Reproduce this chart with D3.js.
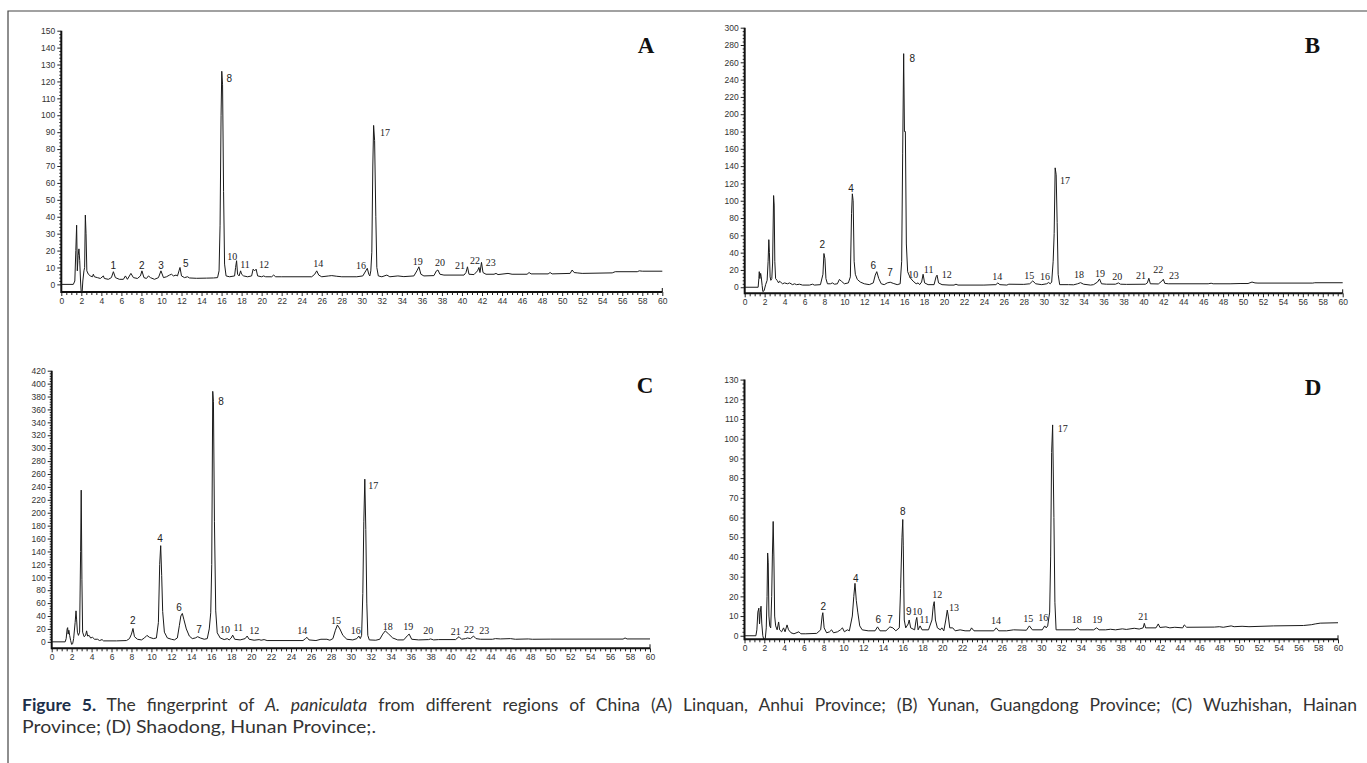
<!DOCTYPE html>
<html>
<head>
<meta charset="utf-8">
<script src="https://cdn.jsdelivr.net/npm/d3@7"></script>
<style>
  body { margin: 0; background: #fff; }
</style>
</head>
<body>
<script>
// retention time ticks (min), shared by all four chromatograms
const xTicks = [0, 2, 4, 6, 8, 10, 12, 14, 16, 18, 20, 22, 24, 26, 28, 30, 32, 34, 36, 38, 40, 42, 44, 46, 48, 50, 52, 54, 56, 58, 60]

const yTicksA = [0, 10, 20, 30, 40, 50, 60, 70, 80, 90, 100, 110, 120, 130, 140, 150]
const yTicksB = [0, 20, 40, 60, 80, 100, 120, 140, 160, 180, 200, 220, 240, 260, 280, 300]
const yTicksC = [0, 20, 40, 60, 80, 100, 120, 140, 160, 180, 200, 220, 240, 260, 280, 300, 320, 340, 360, 380, 400, 420]
const yTicksD = [0, 10, 20, 30, 40, 50, 60, 70, 80, 90, 100, 110, 120, 130]

// traces: [time, response]
const traceA = [[0,0],[1.2,0],[1.35,2],[1.45,20],[1.53,35],[1.6,8],[1.68,17],[1.76,21],[1.84,14],[1.92,2],[1.98,-4],[2.08,-4.5],[2.15,2],[2.26,8],[2.33,10],[2.4,41],[2.47,30],[2.55,8],[2.7,6],[2.9,5],[3.1,4.5],[3.2,6],[3.3,4.5],[3.6,4],[3.9,3.5],[4.2,5],[4.3,3.5],[4.7,3],[5.0,4],[5.2,7.5],[5.4,4],[5.8,3],[6.2,3],[6.4,5],[6.6,3],[6.95,6.5],[7.2,4],[7.6,3.5],[7.9,5],[8.05,8],[8.25,4],[8.5,3.5],[8.7,5],[8.9,4],[9.3,3],[9.7,4],[9.95,8],[10.2,4],[10.5,4.5],[10.8,5.5],[11.0,6],[11.2,5],[11.45,5.5],[11.6,5],[11.75,8],[11.85,10],[12.0,5],[12.3,4],[12.6,4.5],[12.8,3.8],[13.5,3.6],[14.5,3.7],[15.2,3.8],[15.6,4],[15.75,8],[15.85,35],[15.95,100],[16.02,126],[16.1,118],[16.2,55],[16.3,12],[16.45,5],[16.8,4.5],[17.3,5],[17.4,10],[17.5,14],[17.6,6],[17.75,5],[17.9,8],[18.0,6],[18.2,5],[18.6,4.5],[19.0,5],[19.15,9],[19.3,8],[19.45,9],[19.6,5],[20.0,4.5],[20.2,5],[20.4,4.5],[21.0,4.5],[21.2,5.5],[21.4,4.5],[22.0,4.5],[25.0,4.5],[25.3,6],[25.5,8],[25.7,5.5],[26.0,4.5],[26.7,5],[27.0,5.2],[27.5,4.8],[28,4.5],[29.5,4.5],[30.1,5],[30.4,8],[30.55,9.5],[30.7,6],[30.8,5],[30.9,8],[31.0,19],[31.1,70],[31.18,94],[31.28,85],[31.4,40],[31.5,10],[31.65,5],[32.0,4.5],[32.5,5.5],[32.8,4.5],[33.6,5],[34.2,4.6],[35.2,5],[35.5,8],[35.7,10.4],[35.9,6],[36.2,5],[37.2,5.2],[37.45,8],[37.6,8.5],[37.8,6],[38.2,5.5],[40.2,5.5],[40.4,7],[40.55,10.4],[40.7,6],[41.2,5.8],[41.55,8],[41.7,10],[41.8,7],[41.95,13],[42.1,7],[42.4,6],[43.2,6],[43.4,6.5],[43.6,5.8],[44.6,6.5],[45,6],[46.5,6],[46.7,7],[46.9,6.2],[48.6,6.2],[48.8,7],[49,6.2],[50.8,6.5],[51.0,8.5],[51.2,7],[51.5,6.8],[52,6.5],[55,6.8],[55.3,7.5],[57.5,7.5],[57.7,8],[58,7.8],[60,7.8]]

const traceB = [[0,0],[1.35,0],[1.42,10],[1.46,18],[1.52,10],[1.6,16],[1.66,12],[1.75,2],[1.82,-5],[1.95,-4],[2.1,3],[2.25,8],[2.35,30],[2.42,55],[2.48,40],[2.55,12],[2.62,8],[2.72,10],[2.8,28],[2.9,106],[2.96,95],[3.02,30],[3.1,10],[3.25,8],[3.4,5],[3.5,7],[3.6,6],[3.8,4],[4.0,5],[4.3,4],[4.5,5],[4.8,3],[5.0,4],[5.2,3],[5.5,3.5],[5.8,2.5],[6.5,2.5],[6.8,3.5],[7.0,2.5],[7.6,3],[7.85,15],[7.95,39],[8.05,33],[8.15,10],[8.3,4],[8.6,4],[8.8,5],[9.0,3.5],[9.3,4],[9.5,9],[9.7,7],[10.0,4],[10.4,5],[10.6,12],[10.72,85],[10.8,108],[10.88,100],[10.98,30],[11.1,15],[11.3,9],[11.6,6],[12.0,4],[12.5,3],[12.9,5],[13.1,14],[13.25,18],[13.45,10],[13.7,4],[14.0,3],[14.3,5],[14.6,5.8],[14.9,4.5],[15.3,3],[15.6,4],[15.75,30],[15.85,155],[15.95,270],[16.03,180],[16.12,180],[16.22,50],[16.35,18],[16.6,11],[16.9,7],[17.2,4],[17.4,5],[17.55,3],[17.75,6],[17.9,15],[18.05,5],[18.4,3],[19.0,3],[19.2,12],[19.3,14],[19.45,5],[19.8,3],[20.5,2.5],[21.0,2.5],[21.2,3.5],[21.4,2.5],[24.0,2.5],[25.2,3],[25.4,5],[25.6,3],[26.3,2.5],[26.5,3.5],[28.0,3.3],[28.6,4],[28.9,7.3],[29.2,4],[29.8,3],[30.3,4],[30.5,5.5],[30.65,4],[30.8,6],[30.95,30],[31.05,62],[31.15,138],[31.25,130],[31.35,75],[31.45,15],[31.6,3],[32.5,3],[33.0,2.8],[33.4,4],[33.7,5.3],[34.0,3.5],[34.7,2.5],[35.0,3],[35.4,6],[35.6,9.6],[35.8,4],[36.3,3.5],[37.2,3.5],[37.5,5],[37.7,3.5],[38.3,3.3],[40.2,3.5],[40.4,5],[40.55,10.4],[40.7,4],[41.5,3.8],[41.85,7],[42.0,9.2],[42.15,4.5],[42.5,4],[46.5,4],[46.8,4.6],[47,4],[48.7,4],[49.7,4.3],[50.5,4.3],[50.9,6],[51.2,5],[51.5,4.8],[57,4.8],[57.2,5.2],[60,5.2]]

const traceC = [[0,0],[1.35,0],[1.45,5],[1.55,20],[1.6,22],[1.65,12],[1.72,18],[1.8,10],[1.9,2],[2.0,-4],[2.1,-3],[2.2,5],[2.35,30],[2.44,48],[2.5,34],[2.58,15],[2.68,10],[2.8,15],[2.9,140],[2.96,235],[3.03,97],[3.1,15],[3.25,8],[3.4,10],[3.5,17],[3.6,9],[3.75,10],[3.9,6],[4.1,7],[4.3,4],[4.6,4],[4.8,2],[5.05,3.5],[5.2,1.5],[6.5,1.5],[7.5,2],[7.8,5],[8.0,12],[8.15,20.7],[8.3,8],[8.6,4],[9.0,3],[9.3,6],[9.55,10],[9.8,7],[10.2,5],[10.5,6],[10.7,30],[10.83,120],[10.93,149],[11.03,103],[11.13,47],[11.3,15],[11.6,6],[12.0,4],[12.3,3],[12.6,6],[12.8,25],[12.95,40],[13.1,44],[13.25,35],[13.5,20],[13.8,9],[14.1,5],[14.4,6],[14.64,8],[14.9,6],[15.3,4],[15.6,5],[15.8,20],[15.95,45],[16.05,120],[16.15,388],[16.22,372],[16.32,186],[16.45,48],[16.6,14],[16.9,6],[17.3,3.5],[17.6,5],[17.8,3],[18.0,6],[18.15,10.4],[18.35,4],[18.9,3],[19.4,5],[19.6,9],[19.8,4],[20.3,2.5],[20.8,3.5],[21.0,2.5],[21.3,3.5],[21.6,2],[25.2,2],[25.45,5],[25.6,7],[25.8,3],[26.5,2],[27.0,4],[27.6,4],[27.9,2.5],[28.2,5],[28.45,18],[28.65,26],[28.9,20],[29.2,10],[29.6,4],[30.2,3],[30.6,5],[30.8,9],[30.95,5],[31.08,10],[31.2,75],[31.3,186],[31.4,252],[31.5,174],[31.6,60],[31.7,10],[31.85,3],[32.5,2.5],[32.9,4],[33.2,12],[33.45,17],[33.8,12],[34.2,6],[34.7,3],[35.3,3],[35.7,10],[35.85,12],[36.1,4],[36.8,3],[37.8,3.5],[38.0,4.5],[38.3,3],[38.8,3.5],[40.5,3.5],[40.85,8],[41.1,4],[41.5,5],[41.7,6],[42.0,5],[42.3,9],[42.55,5],[43,4],[44.2,4],[44.5,5],[45,4.5],[46.0,5],[46.5,4],[47.8,4.5],[48.2,4],[50,4.2],[57.3,4.3],[57.5,6],[57.7,4.5],[60,4.5]]

const traceD = [[0,0],[1.15,0],[1.25,3],[1.35,12],[1.45,14],[1.52,6],[1.6,12],[1.67,15],[1.75,6],[1.85,0],[1.95,-1.8],[2.1,-1.5],[2.2,4],[2.28,20],[2.34,42],[2.4,37],[2.47,10],[2.55,5],[2.65,4],[2.75,20],[2.82,41],[2.9,58],[2.97,40],[3.05,10],[3.15,5],[3.3,3],[3.45,7],[3.55,3],[3.75,2],[3.95,4],[4.1,2],[4.3,5.5],[4.45,3],[4.7,1.5],[5.0,1],[5.5,2],[5.7,1],[6.2,1],[7.3,1.2],[7.7,3],[7.85,10],[7.92,11.7],[8.05,4],[8.3,1.5],[8.6,2],[8.8,3],[9.0,1.5],[9.4,2],[9.7,3],[9.9,4],[10.1,2],[10.4,3],[10.6,2.5],[10.9,10],[11.05,20],[11.17,26.6],[11.3,18],[11.45,12],[11.65,5],[11.9,3],[12.5,2.5],[13.2,2.5],[13.45,4.5],[13.7,2.5],[14.3,2.5],[14.7,4.5],[15.0,4],[15.3,2.5],[15.65,4],[15.78,24],[15.92,50],[16.0,59],[16.05,46],[16.15,8],[16.3,4],[16.55,6],[16.65,8],[16.8,4],[17.2,3],[17.35,8],[17.42,9.3],[17.55,3],[17.75,5],[17.95,3],[18.6,3],[18.95,8],[19.08,15],[19.18,17.3],[19.3,8],[19.5,4],[19.8,3],[19.95,4],[20.15,2.5],[20.35,8],[20.5,13],[20.6,10],[20.75,4],[21.05,4],[21.3,2.5],[21.8,3],[22.3,2.5],[22.8,2.5],[22.95,4],[23.2,2.5],[25.2,2.5],[25.45,4],[25.7,2.5],[26.5,2.5],[27.2,3],[28.5,2.8],[28.8,5],[29.1,3],[30.1,3],[30.35,5],[30.5,4],[30.65,5],[30.85,12],[30.95,40],[31.05,93],[31.15,107],[31.28,60],[31.38,17],[31.5,3],[32.2,3],[33.4,3],[33.68,4],[33.9,3],[35.3,3],[35.6,4],[35.85,3],[36.5,3],[37.0,3.3],[37.5,3],[38.2,3.5],[38.6,3.2],[39.4,3.8],[39.9,3.4],[40.3,4],[40.42,6.3],[40.55,4],[41.6,4],[41.83,6],[42.0,4.2],[42.6,4.5],[43.0,4],[43.5,4.3],[44.3,4],[44.46,5.5],[44.7,4.3],[47.5,4.4],[48,4.6],[48.4,4.3],[49.2,5],[49.5,4.6],[50.3,4.8],[51,4.6],[53.5,5],[56.5,5.2],[57.3,5.6],[57.7,6],[58.2,6.4],[60,6.6]]

// peak numbers: [label, time, response] at the label's centre
const peaksA = [['1',5.19,11.4],['2',8.03,11],['3',9.95,11.4],['5',12.42,12.4],['8',16.77,121.9],['10',17.07,16.7],['11',18.34,11.8],['12',20.24,11.8],['14',25.66,12.4],['16',29.92,11.4],['17',32.31,89.7],['19',35.58,13.8],['20',37.8,12.8],['21',39.8,11.4],['22',41.3,14.4],['23',42.87,12.8]]
const peaksB = [['2',7.79,48.9],['4',10.67,114.5],['6',12.9,25],['7',14.58,16.9],['8',16.82,264.7],['10',16.92,14.2],['11',18.46,20.8],['12',20.27,14.2],['14',25.34,12.3],['15',28.56,13.1],['16',30.13,12.3],['17',32.14,122.9],['18',33.54,14.2],['19',35.65,16.2],['20',37.38,12.3],['21',39.76,13.1],['22',41.5,20.8],['23',43.07,13.1]]
const peaksC = [['2',8.12,33.6],['4',10.86,160.2],['6',12.77,53.3],['7',14.77,19.2],['8',16.98,372],['10',17.38,19.7],['11',18.71,22.3],['12',20.32,17],['14',25.13,18.1],['15',28.51,33.6],['16',30.49,18.1],['17',32.25,242.9],['18',33.69,24.3],['19',35.76,23.2],['20',37.77,17],['21',40.51,16.6],['22',41.85,19.2],['23',43.38,17]]
const peaksD = [['2',7.97,15.1],['4',11.24,29.1],['6',13.53,8],['7',14.71,8],['8',15.99,62.9],['9',16.6,12.2],['10',17.47,12.2],['11',18.18,8],['12',19.49,20.7],['13',21.18,14.2],['14',25.42,7.6],['15',28.69,8.8],['16',30.21,9.3],['17',32.17,105.1],['18',33.58,8],['19',35.67,8.3],['21',40.32,10]]

const width = 1367
const height = 763

const svg = d3.select('body')
    .append('svg')
    .attr('width', width)
    .attr('height', height)
    .attr('viewBox', [0, 0, width, height])

// outer frame (top and left only)
svg.append('path')
    .attr('d', `M8,${height} V11 H${width}`)
    .attr('fill', 'none')
    .attr('stroke', '#444')
    .attr('stroke-width', 1.2)

const panels = [
    { letter: 'A', trace: traceA, peaks: peaksA, yTicks: yTicksA, yMin: -4.5, yMax: 150, left: 61.3, right: 662.3, axisY: 292, topY: 30.7, lx: 646, ly: 52.5 },
    { letter: 'B', trace: traceB, peaks: peaksB, yTicks: yTicksB, yMin: -7, yMax: 300, left: 744.7, right: 1342.7, axisY: 293.3, topY: 27.7, lx: 1312.5, ly: 52.5 },
    { letter: 'C', trace: traceC, peaks: peaksC, yTicks: yTicksC, yMin: -10, yMax: 420, left: 51.7, right: 650, axisY: 648.3, topY: 370.7, lx: 645, ly: 393 },
    { letter: 'D', trace: traceD, peaks: peaksD, yTicks: yTicksD, yMin: -1.8, yMax: 130, left: 744.5, right: 1338, axisY: 639.3, topY: 379.6, lx: 1313, ly: 395 }
]

const drawPanel = (p) => {
    const x = d3.scaleLinear().domain([0, 60]).range([p.left, p.right])
    const y = d3.scaleLinear().domain([p.yMin, p.yMax]).range([p.axisY, p.topY])
    const g = svg.append('g')

    // minor ticks
    const xMinor = d3.range(0, 60.01, 0.5).filter(v => xTicks.indexOf(v) < 0)
    const yStep = p.yTicks[1] - p.yTicks[0]
    const yMinor = d3.range(0, p.yMax + 0.01, yStep / 5).filter(v => !p.yTicks.some(t => Math.abs(t - v) < 1e-6))

    g.append('g')
        .attr('transform', `translate(0,${p.axisY})`)
        .call(d3.axisBottom(x).tickValues(xMinor).tickSize(3).tickFormat(''))
        .call(a => a.select('.domain').remove())

    g.append('g')
        .attr('transform', `translate(0,${p.axisY})`)
        .call(d3.axisBottom(x).tickValues(xTicks).tickSize(4).tickPadding(2).tickFormat(d3.format('d')))
        .call(a => a.select('.domain').remove())

    g.append('g')
        .attr('transform', `translate(${x(0)},0)`)
        .call(d3.axisLeft(y).tickValues(yMinor).tickSize(2).tickFormat(''))
        .call(a => a.select('.domain').remove())

    g.append('g')
        .attr('transform', `translate(${x(0)},0)`)
        .call(d3.axisLeft(y).tickValues(p.yTicks).tickSize(4).tickPadding(2).tickFormat(d3.format('d')))
        .call(a => a.select('.domain').remove())

    g.selectAll('.tick line').attr('stroke', '#222')
    g.selectAll('.tick text')
        .attr('font-family', 'Liberation Sans, Arial, sans-serif')
        .attr('font-size', 8.5)
        .attr('fill', '#333')

    // axis lines
    g.append('line')
        .attr('x1', x(0)).attr('x2', x(60))
        .attr('y1', p.axisY).attr('y2', p.axisY)
        .attr('stroke', '#111').attr('stroke-width', 2)
    g.append('line')
        .attr('x1', x(0)).attr('x2', x(0))
        .attr('y1', p.axisY + 1).attr('y2', y(p.yMax))
        .attr('stroke', '#111').attr('stroke-width', 2)
    g.append('line')
        .attr('x1', x(60)).attr('x2', x(60))
        .attr('y1', p.axisY).attr('y2', p.axisY - 4)
        .attr('stroke', '#111').attr('stroke-width', 1)

    // chromatogram trace
    const line = d3.line().x(d => x(d[0])).y(d => y(d[1]))
    g.append('path')
        .datum(p.trace)
        .attr('d', line)
        .attr('fill', 'none')
        .attr('stroke', '#1a1a1a')
        .attr('stroke-width', 1)
        .attr('stroke-linejoin', 'round')

    // peak numbers
    g.append('g')
        .selectAll('text')
        .data(p.peaks)
        .join('text')
        .attr('x', d => x(d[1]))
        .attr('y', d => y(d[2]))
        .attr('dy', '0.35em')
        .attr('text-anchor', 'middle')
        .attr('font-family', d => d[0].length > 1 ? 'Liberation Serif, Times New Roman, serif' : 'Liberation Sans, Arial, sans-serif')
        .attr('font-size', 10)
        .attr('fill', '#222')
        .text(d => d[0])

    // panel letter
    g.append('text')
        .attr('x', p.lx)
        .attr('y', p.ly)
        .attr('text-anchor', 'middle')
        .attr('font-family', 'Liberation Serif, Times New Roman, serif')
        .attr('font-weight', 'bold')
        .attr('font-size', 23)
        .attr('fill', '#111')
        .text(p.letter)
}

panels.forEach(drawPanel)

// caption
const capFont = 'Lato, Liberation Sans, sans-serif'
const cap1 = svg.append('text')
    .attr('x', 22).attr('y', 711)
    .attr('font-family', capFont)
    .attr('font-size', 17.5)
    .attr('fill', '#333')
cap1.append('tspan').attr('font-weight', 'bold').attr('fill', '#1d2f4a').text('Figure 5.')
cap1.append('tspan').text(' The fingerprint of ')
cap1.append('tspan').attr('font-style', 'italic').text('A. paniculata')
cap1.append('tspan').text(' from different regions of China (A) Linquan, Anhui Province; (B) Yunan, Guangdong Province; (C) Wuzhishan, Hainan')

// justify the first line to the column width
const natural = cap1.node().getComputedTextLength()
const gaps = cap1.text().split(' ').length - 1
cap1.attr('word-spacing', (1357 - 22 - natural) / gaps)

svg.append('text')
    .attr('x', 22).attr('y', 733)
    .attr('font-family', capFont)
    .attr('font-size', 17.5)
    .attr('fill', '#333')
    .attr('textLength', 354)
    .attr('lengthAdjust', 'spacingAndGlyphs')
    .text('Province; (D) Shaodong, Hunan Province;.')
</script>
</body>
</html>
